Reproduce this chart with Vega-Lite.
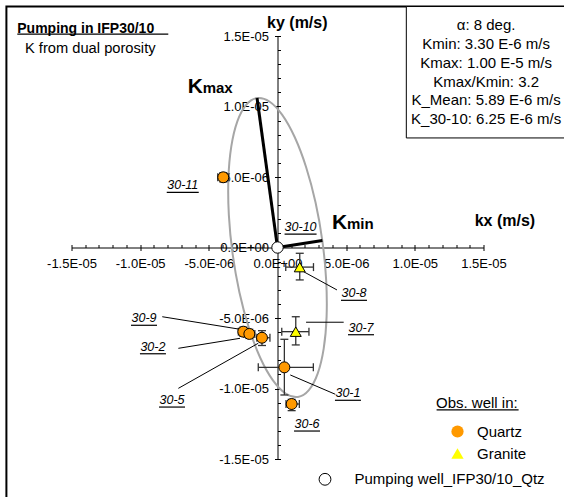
{
  "$schema": "https://vega.github.io/schema/vega-lite/v6.json",
  "width": 412,
  "height": 423,
  "autosize": {"type": "none"},
  "padding": {"left": 71.5, "top": 36, "right": 80.5, "bottom": 38},
  "background": "white",
  "config": {"view": {"stroke": null}, "font": "Liberation Sans", "text": {"font": "Liberation Sans", "color": "black"}},
  "data": {"values": [{}]},
  "datasets": {
    "ellipse": [
      {"t": 0, "kx": -1.489e-6, "ky": 1.0596e-5},
      {"t": 15, "kx": -0.593e-6, "ky": 1.0354e-5},
      {"t": 30, "kx": 0.344e-6, "ky": 9.406e-6},
      {"t": 45, "kx": 1.258e-6, "ky": 7.817e-6},
      {"t": 60, "kx": 2.085e-6, "ky": 5.696e-6},
      {"t": 75, "kx": 2.771e-6, "ky": 3.186e-6},
      {"t": 90, "kx": 3.268e-6, "ky": 0.459e-6},
      {"t": 105, "kx": 3.542e-6, "ky": -2.298e-6},
      {"t": 120, "kx": 3.575e-6, "ky": -4.900e-6},
      {"t": 135, "kx": 3.364e-6, "ky": -7.168e-6},
      {"t": 150, "kx": 2.924e-6, "ky": -8.946e-6},
      {"t": 165, "kx": 2.284e-6, "ky": -1.0116e-5},
      {"t": 180, "kx": 1.489e-6, "ky": -1.0596e-5},
      {"t": 195, "kx": 0.593e-6, "ky": -1.0354e-5},
      {"t": 210, "kx": -0.344e-6, "ky": -9.406e-6},
      {"t": 225, "kx": -1.258e-6, "ky": -7.817e-6},
      {"t": 240, "kx": -2.085e-6, "ky": -5.696e-6},
      {"t": 255, "kx": -2.771e-6, "ky": -3.186e-6},
      {"t": 270, "kx": -3.268e-6, "ky": -0.459e-6},
      {"t": 285, "kx": -3.542e-6, "ky": 2.298e-6},
      {"t": 300, "kx": -3.575e-6, "ky": 4.900e-6},
      {"t": 315, "kx": -3.364e-6, "ky": 7.168e-6},
      {"t": 330, "kx": -2.924e-6, "ky": 8.946e-6},
      {"t": 345, "kx": -2.284e-6, "ky": 1.0116e-5}
    ],
    "axes": [
      {"name": "Kmax", "kx": 0, "ky": 0, "kx2": -1.49e-6, "ky2": 1.06e-5},
      {"name": "Kmin", "kx": 0, "ky": 0, "kx2": 3.27e-6, "ky2": 0.5e-6}
    ],
    "wells": [
      {"well": "30-11", "rock": "Quartz", "kx": -3.95e-6, "ky": 4.98e-6, "kxlo": -4.35e-6, "kxhi": -3.55e-6, "kylo": 4.65e-6, "kyhi": 5.3e-6},
      {"well": "30-9", "rock": "Quartz", "kx": -2.49e-6, "ky": -5.97e-6, "kxlo": -2.85e-6, "kxhi": -2.15e-6, "kylo": -6.3e-6, "kyhi": -5.65e-6},
      {"well": "30-2", "rock": "Quartz", "kx": -2.05e-6, "ky": -6.13e-6, "kxlo": -2.45e-6, "kxhi": -1.65e-6, "kylo": -6.45e-6, "kyhi": -5.8e-6},
      {"well": "30-5", "rock": "Quartz", "kx": -1.13e-6, "ky": -6.40e-6, "kxlo": -1.5e-6, "kxhi": -0.55e-6, "kylo": -6.95e-6, "kyhi": -5.9e-6},
      {"well": "30-1", "rock": "Quartz", "kx": 0.50e-6, "ky": -8.50e-6, "kxlo": -1.40e-6, "kxhi": 2.61e-6, "kylo": -10.46e-6, "kyhi": -6.51e-6},
      {"well": "30-6", "rock": "Quartz", "kx": 1.03e-6, "ky": -11.10e-6, "kxlo": 0.62e-6, "kxhi": 1.59e-6, "kylo": -11.57e-6, "kyhi": -10.77e-6},
      {"well": "30-8", "rock": "Granite", "kx": 1.62e-6, "ky": -1.39e-6, "kxlo": 0.6e-6, "kxhi": 2.62e-6, "kylo": -2.30e-6, "kyhi": -0.41e-6},
      {"well": "30-7", "rock": "Granite", "kx": 1.33e-6, "ky": -5.97e-6, "kxlo": 0.31e-6, "kxhi": 2.29e-6, "kylo": -6.91e-6, "kyhi": -4.91e-6}
    ],
    "pumping": [
      {"type": "Pumping well_IFP30/10_Qtz", "kx": 0, "ky": 0}
    ],
    "labels": [
      {"label": "30-11", "lx": -6.90e-6, "ly": 4.40e-6},
      {"label": "30-10", "lx": 1.68e-6, "ly": 1.45e-6},
      {"label": "30-9", "lx": -9.72e-6, "ly": -5.02e-6},
      {"label": "30-2", "lx": -9.07e-6, "ly": -7.04e-6},
      {"label": "30-5", "lx": -7.68e-6, "ly": -10.82e-6},
      {"label": "30-8", "lx": 5.57e-6, "ly": -3.25e-6},
      {"label": "30-7", "lx": 6.08e-6, "ly": -5.69e-6},
      {"label": "30-1", "lx": 5.13e-6, "ly": -10.34e-6},
      {"label": "30-6", "lx": 2.15e-6, "ly": -12.52e-6}
    ],
    "leaders": [
      {"label": "30-9", "x1": -8.39e-6, "y1": -4.91e-6, "x2": -2.73e-6, "y2": -5.80e-6},
      {"label": "30-2", "x1": -7.22e-6, "y1": -7.15e-6, "x2": -2.73e-6, "y2": -6.44e-6},
      {"label": "30-5", "x1": -7.22e-6, "y1": -9.99e-6, "x2": -1.40e-6, "y2": -6.79e-6},
      {"label": "30-8", "x1": 1.91e-6, "y1": -1.72e-6, "x2": 4.33e-6, "y2": -3.01e-6},
      {"label": "30-7", "x1": 2.08e-6, "y1": -5.30e-6, "x2": 4.82e-6, "y2": -5.30e-6},
      {"label": "30-1", "x1": 0.93e-6, "y1": -9.04e-6, "x2": 4.21e-6, "y2": -10.41e-6}
    ]
  },
  "resolve": {
    "scale": {"fill": "independent", "shape": "independent"},
    "axis": {"x": "independent", "y": "independent"}
  },
  "layer": [
    {
      "mark": {"type": "rect", "fill": null, "fillOpacity": 0, "stroke": "black", "strokeWidth": 2},
      "encoding": {
        "x": {"datum": -1.974e-5, "type": "quantitative", "axis": null, "scale": {"domain": [-1.5e-5, 1.5e-5], "nice": false, "zero": false}},
        "x2": {"datum": 2.5e-5},
        "y": {"datum": 1.709e-5, "type": "quantitative", "axis": null, "scale": {"domain": [-1.5e-5, 1.5e-5], "nice": false, "zero": false}},
        "y2": {"datum": -2.0e-5}
      }
    },
    {
      "mark": {"type": "rect", "fill": "white", "stroke": "black", "strokeWidth": 1},
      "encoding": {
        "x": {"datum": 9.38e-6, "type": "quantitative", "axis": null},
        "x2": {"datum": 2.5e-5},
        "y": {"datum": 1.709e-5, "type": "quantitative", "axis": null},
        "y2": {"datum": 7.77e-6}
      }
    },
    {
      "data": {"name": "ellipse"},
      "mark": {"type": "line", "interpolate": "cardinal-closed", "stroke": "#A6A6A6", "strokeWidth": 2},
      "encoding": {
        "x": {"field": "kx", "type": "quantitative", "axis": {
          "orient": "bottom", "offset": -211.5, "title": null, "grid": false,
          "values": [-1.5e-5, -1e-5, -5e-6, 0, 5e-6, 1e-5, 1.5e-5],
          "labelExpr": "datum.value < -1.2e-5 ? '-1.5E-05' : datum.value < -7e-6 ? '-1.0E-05' : datum.value < -2e-6 ? '-5.0E-06' : datum.value < 2e-6 ? '0.0E+00' : datum.value < 7e-6 ? '5.0E-06' : datum.value < 1.2e-5 ? '1.0E-05' : '1.5E-05'",
          "tickSize": 3, "tickColor": "black", "tickWidth": 1, "domainColor": "black", "domainWidth": 1,
          "labelFont": "Liberation Sans", "labelFontSize": 13, "labelColor": "black", "labelPadding": 7,
          "labelFlush": false, "labelOverlap": false, "labelBound": false}},
        "y": {"field": "ky", "type": "quantitative", "axis": {
          "orient": "left", "offset": -206, "title": null, "grid": false,
          "values": [-1.5e-5, -1e-5, -5e-6, 0, 5e-6, 1e-5, 1.5e-5],
          "labelExpr": "datum.value < -1.2e-5 ? '-1.5E-05' : datum.value < -7e-6 ? '-1.0E-05' : datum.value < -2e-6 ? '-5.0E-06' : datum.value < 2e-6 ? '0.0E+00' : datum.value < 7e-6 ? '5.0E-06' : datum.value < 1.2e-5 ? '1.0E-05' : '1.5E-05'",
          "tickSize": 3, "tickColor": "black", "tickWidth": 1, "domainColor": "black", "domainWidth": 1,
          "labelFont": "Liberation Sans", "labelFontSize": 13, "labelColor": "black", "labelPadding": 6,
          "labelFlush": false, "labelOverlap": false, "labelBound": false}},
        "order": {"field": "t", "type": "quantitative"}
      }
    },
    {
      "data": {"name": "axes"},
      "mark": {"type": "rule", "color": "black", "strokeWidth": 3},
      "encoding": {
        "x": {"field": "kx", "type": "quantitative", "axis": {
          "orient": "bottom", "offset": -211.5, "title": null, "grid": false, "labels": false, "domain": false,
          "values": [-1.5e-5, -1.4e-5, -1.3e-5, -1.2e-5, -1.1e-5, -1e-5, -9e-6, -8e-6, -7e-6, -6e-6, -5e-6, -4e-6, -3e-6, -2e-6, -1e-6, 0, 1e-6, 2e-6, 3e-6, 4e-6, 5e-6, 6e-6, 7e-6, 8e-6, 9e-6, 1e-5, 1.1e-5, 1.2e-5, 1.3e-5, 1.4e-5, 1.5e-5],
          "tickSize": -3, "tickColor": "black", "tickWidth": 1}},
        "y": {"field": "ky", "type": "quantitative", "axis": {
          "orient": "left", "offset": -206, "title": null, "grid": false, "labels": false, "domain": false,
          "values": [-1.5e-5, -1.4e-5, -1.3e-5, -1.2e-5, -1.1e-5, -1e-5, -9e-6, -8e-6, -7e-6, -6e-6, -5e-6, -4e-6, -3e-6, -2e-6, -1e-6, 0, 1e-6, 2e-6, 3e-6, 4e-6, 5e-6, 6e-6, 7e-6, 8e-6, 9e-6, 1e-5, 1.1e-5, 1.2e-5, 1.3e-5, 1.4e-5, 1.5e-5],
          "tickSize": -3, "tickColor": "black", "tickWidth": 1}},
        "x2": {"field": "kx2"},
        "y2": {"field": "ky2"}
      }
    },
    {
      "data": {"name": "wells"},
      "mark": {"type": "rule", "color": "#333333", "strokeWidth": 1.3},
      "encoding": {
        "x": {"field": "kxlo", "type": "quantitative", "axis": null},
        "x2": {"field": "kxhi"},
        "y": {"field": "ky", "type": "quantitative", "axis": null}
      }
    },
    {
      "data": {"name": "wells"},
      "mark": {"type": "rule", "color": "#333333", "strokeWidth": 1.3},
      "encoding": {
        "x": {"field": "kx", "type": "quantitative", "axis": null},
        "y": {"field": "kylo", "type": "quantitative", "axis": null},
        "y2": {"field": "kyhi"}
      }
    },
    {
      "data": {"name": "wells"},
      "mark": {"type": "tick", "orient": "vertical", "color": "#333333", "size": 8, "thickness": 1.3, "opacity": 1},
      "encoding": {
        "x": {"field": "kxlo", "type": "quantitative", "axis": null},
        "y": {"field": "ky", "type": "quantitative", "axis": null}
      }
    },
    {
      "data": {"name": "wells"},
      "mark": {"type": "tick", "orient": "vertical", "color": "#333333", "size": 8, "thickness": 1.3, "opacity": 1},
      "encoding": {
        "x": {"field": "kxhi", "type": "quantitative", "axis": null},
        "y": {"field": "ky", "type": "quantitative", "axis": null}
      }
    },
    {
      "data": {"name": "wells"},
      "mark": {"type": "tick", "orient": "horizontal", "color": "#333333", "size": 8, "thickness": 1.3, "opacity": 1},
      "encoding": {
        "x": {"field": "kx", "type": "quantitative", "axis": null},
        "y": {"field": "kylo", "type": "quantitative", "axis": null}
      }
    },
    {
      "data": {"name": "wells"},
      "mark": {"type": "tick", "orient": "horizontal", "color": "#333333", "size": 8, "thickness": 1.3, "opacity": 1},
      "encoding": {
        "x": {"field": "kx", "type": "quantitative", "axis": null},
        "y": {"field": "kyhi", "type": "quantitative", "axis": null}
      }
    },
    {
      "data": {"name": "leaders"},
      "mark": {"type": "rule", "color": "black", "strokeWidth": 1},
      "encoding": {
        "x": {"field": "x1", "type": "quantitative", "axis": null},
        "y": {"field": "y1", "type": "quantitative", "axis": null},
        "x2": {"field": "x2"},
        "y2": {"field": "y2"}
      }
    },
    {
      "data": {"name": "wells"},
      "mark": {"type": "point", "filled": true, "stroke": "black", "strokeWidth": 1, "size": 120, "opacity": 1},
      "encoding": {
        "x": {"field": "kx", "type": "quantitative", "axis": null},
        "y": {"field": "ky", "type": "quantitative", "axis": null},
        "fill": {"field": "rock", "type": "nominal",
          "scale": {"domain": ["Quartz", "Granite"], "range": ["#FF9900", "#FFFF00"]},
          "legend": {"orient": "none", "legendX": 364.5, "legendY": 359.5, "title": "Obs. well in:", "padding": 0,
            "titleFont": "Liberation Sans", "titleFontSize": 15, "titleFontWeight": "normal", "titleColor": "black", "titlePadding": 13.5,
            "labelFont": "Liberation Sans", "labelFontSize": 15, "labelColor": "black", "labelOffset": 12,
            "symbolOffset": 14, "symbolSize": 150, "symbolStrokeColor": "black", "symbolStrokeWidth": 1, "rowPadding": 6}},
        "shape": {"field": "rock", "type": "nominal",
          "scale": {"domain": ["Quartz", "Granite"], "range": ["circle", "triangle-up"]},
          "legend": {"orient": "none", "legendX": 364.5, "legendY": 359.5, "title": "Obs. well in:", "padding": 0,
            "titleFont": "Liberation Sans", "titleFontSize": 15, "titleFontWeight": "normal", "titleColor": "black", "titlePadding": 13.5,
            "labelFont": "Liberation Sans", "labelFontSize": 15, "labelColor": "black", "labelOffset": 12,
            "symbolOffset": 14, "symbolSize": 150, "symbolStrokeColor": "black", "symbolStrokeWidth": 1, "rowPadding": 6}}
      }
    },
    {
      "data": {"name": "pumping"},
      "mark": {"type": "point", "filled": true, "shape": "circle", "stroke": "black", "strokeWidth": 1, "size": 130, "opacity": 1},
      "encoding": {
        "x": {"field": "kx", "type": "quantitative", "axis": null},
        "y": {"field": "ky", "type": "quantitative", "axis": null},
        "fill": {"field": "type", "type": "nominal",
          "scale": {"domain": ["Pumping well_IFP30/10_Qtz"], "range": ["white"]},
          "legend": {"orient": "none", "legendX": 246, "legendY": 435.8, "title": null, "padding": 0,
            "labelFont": "Liberation Sans", "labelFontSize": 15, "labelColor": "black", "labelOffset": 22, "labelLimit": 400,
            "symbolSize": 140, "symbolStrokeColor": "black", "symbolStrokeWidth": 1}}
      }
    },
    {
      "data": {"name": "labels"},
      "mark": {"type": "text", "font": "Liberation Sans", "fontSize": 12.5, "fontStyle": "italic", "align": "center", "baseline": "middle", "color": "black"},
      "encoding": {
        "x": {"field": "lx", "type": "quantitative", "axis": null},
        "y": {"field": "ly", "type": "quantitative", "axis": null},
        "text": {"field": "label"}
      }
    },
    {
      "data": {"name": "labels"},
      "mark": {"type": "tick", "orient": "horizontal", "color": "black", "thickness": 1.2, "yOffset": 7, "opacity": 1},
      "encoding": {
        "x": {"field": "lx", "type": "quantitative", "axis": null},
        "y": {"field": "ly", "type": "quantitative", "axis": null},
        "size": {"condition": {"test": "length(datum.label) > 4", "value": 32}, "value": 26}
      }
    },
    {
      "mark": {"type": "text", "font": "Liberation Sans", "fontSize": 14, "fontWeight": "bold", "align": "left", "baseline": "middle", "text": "Pumping in IFP30/10"},
      "encoding": {
        "x": {"datum": -1.895e-5, "type": "quantitative", "axis": null},
        "y": {"datum": 1.55e-5, "type": "quantitative", "axis": null}
      }
    },
    {
      "mark": {"type": "tick", "orient": "horizontal", "color": "black", "thickness": 1.3, "size": 151, "opacity": 1},
      "encoding": {
        "x": {"datum": -1.345e-5, "type": "quantitative", "axis": null},
        "y": {"datum": 1.514e-5, "type": "quantitative", "axis": null}
      }
    },
    {
      "mark": {"type": "text", "font": "Liberation Sans", "fontSize": 14.7, "align": "left", "baseline": "middle", "text": "K from dual porosity"},
      "encoding": {
        "x": {"datum": -1.839e-5, "type": "quantitative", "axis": null},
        "y": {"datum": 1.408e-5, "type": "quantitative", "axis": null}
      }
    },
    {
      "mark": {"type": "text", "font": "Liberation Sans", "fontSize": 16, "fontWeight": "bold", "align": "left", "baseline": "middle", "text": "ky (m/s)"},
      "encoding": {
        "x": {"datum": -0.76e-6, "type": "quantitative", "axis": null},
        "y": {"datum": 1.592e-5, "type": "quantitative", "axis": null}
      }
    },
    {
      "mark": {"type": "text", "font": "Liberation Sans", "fontSize": 16, "fontWeight": "bold", "align": "left", "baseline": "middle", "text": "kx (m/s)"},
      "encoding": {
        "x": {"datum": 1.436e-5, "type": "quantitative", "axis": null},
        "y": {"datum": 1.88e-6, "type": "quantitative", "axis": null}
      }
    },
    {
      "mark": {"type": "text", "font": "Liberation Sans", "fontSize": 21, "fontWeight": "bold", "align": "left", "baseline": "alphabetic", "text": "K"},
      "encoding": {
        "x": {"datum": -6.54e-6, "type": "quantitative", "axis": null},
        "y": {"datum": 1.096e-5, "type": "quantitative", "axis": null}
      }
    },
    {
      "mark": {"type": "text", "font": "Liberation Sans", "fontSize": 15, "fontWeight": "bold", "align": "left", "baseline": "alphabetic", "text": "max"},
      "encoding": {
        "x": {"datum": -5.45e-6, "type": "quantitative", "axis": null},
        "y": {"datum": 1.096e-5, "type": "quantitative", "axis": null}
      }
    },
    {
      "mark": {"type": "text", "font": "Liberation Sans", "fontSize": 21, "fontWeight": "bold", "align": "left", "baseline": "alphabetic", "text": "K"},
      "encoding": {
        "x": {"datum": 3.97e-6, "type": "quantitative", "axis": null},
        "y": {"datum": 1.29e-6, "type": "quantitative", "axis": null}
      }
    },
    {
      "mark": {"type": "text", "font": "Liberation Sans", "fontSize": 15, "fontWeight": "bold", "align": "left", "baseline": "alphabetic", "text": "min"},
      "encoding": {
        "x": {"datum": 5.06e-6, "type": "quantitative", "axis": null},
        "y": {"datum": 1.29e-6, "type": "quantitative", "axis": null}
      }
    },
    {
      "mark": {"type": "text", "font": "Liberation Sans", "fontSize": 15, "align": "center", "baseline": "middle", "lineHeight": 18.86,
        "text": ["α: 8 deg.", "Kmin: 3.30 E-6 m/s", "Kmax: 1.00 E-5 m/s", "Kmax/Kmin: 3.2", "K_Mean: 5.89 E-6 m/s", "K_30-10: 6.25 E-6 m/s"]},
      "encoding": {
        "x": {"datum": 1.519e-5, "type": "quantitative", "axis": null},
        "y": {"datum": 1.578e-5, "type": "quantitative", "axis": null}
      }
    },
    {
      "mark": {"type": "tick", "orient": "horizontal", "color": "black", "thickness": 1.2, "size": 82, "opacity": 1},
      "encoding": {
        "x": {"datum": 1.457e-5, "type": "quantitative", "axis": null},
        "y": {"datum": -1.152e-5, "type": "quantitative", "axis": null}
      }
    }
  ]
}
